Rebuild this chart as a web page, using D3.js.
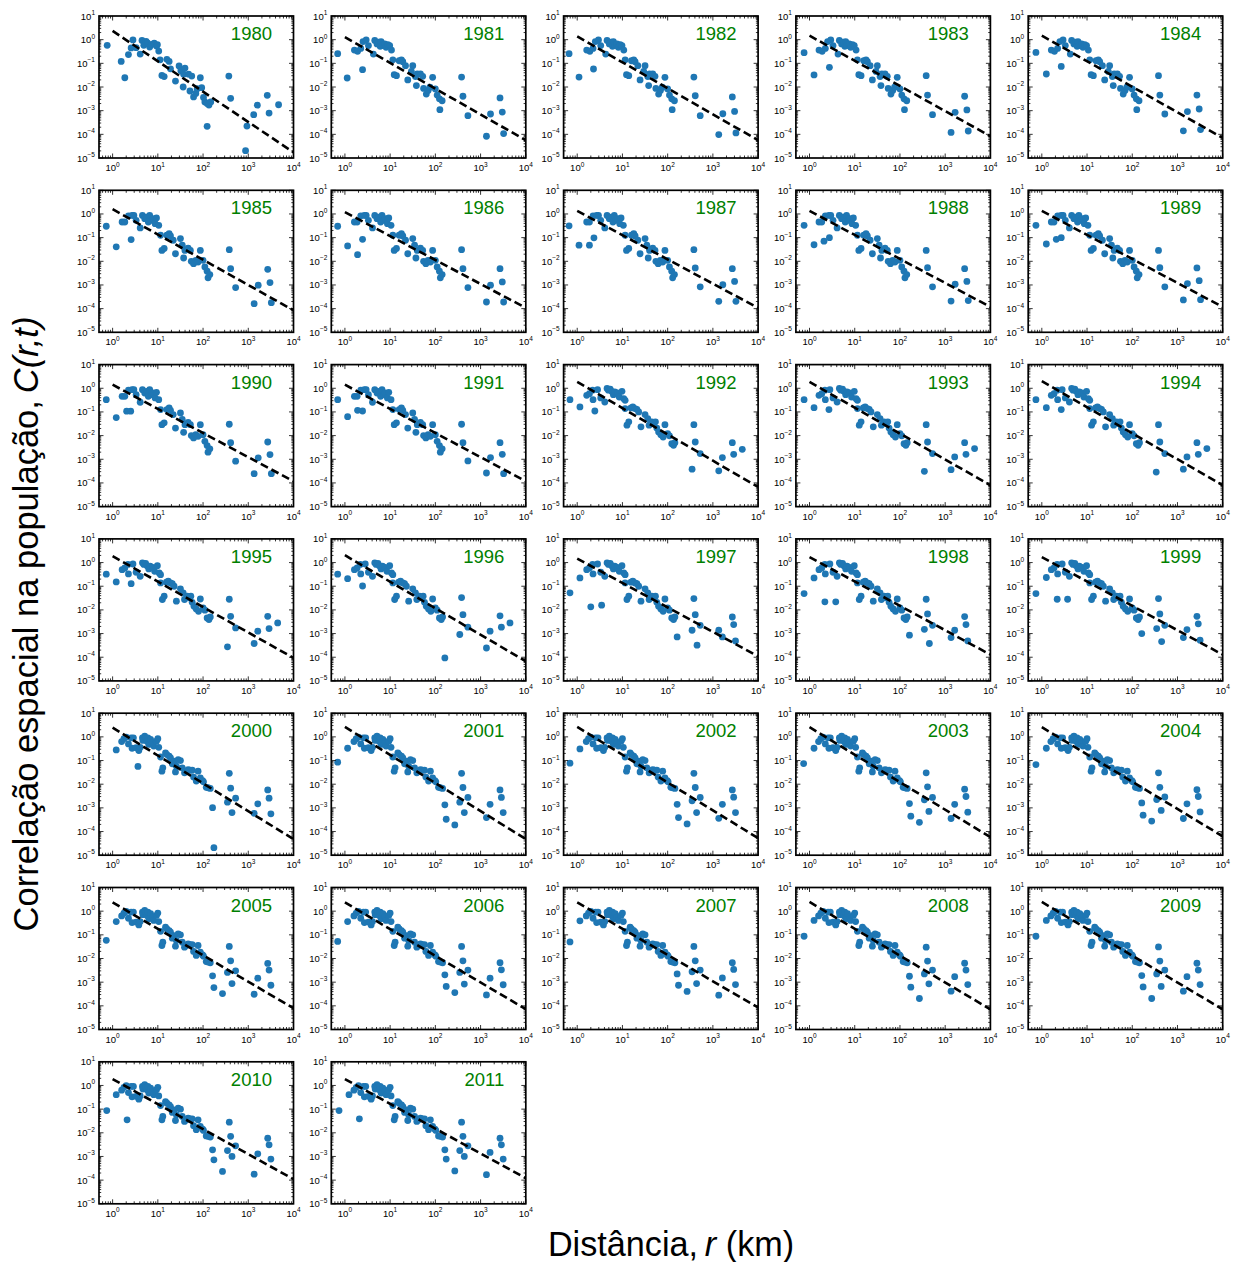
<!DOCTYPE html>
<html><head><meta charset="utf-8">
<script src="https://cdn.jsdelivr.net/npm/d3@7"></script>
<style>body{margin:0;background:#fff}svg{display:block}</style>
</head><body><svg id="c" width="1244" height="1262"></svg>
<script>
// ---------------- DATA ----------------
// points are [log10 distance (km), log10 C(r,t)]
const years = [1980,1981,1982,1983,1984,1985,1986,1987,1988,1989,1990,1991,1992,1993,1994,1995,
               1996,1997,1998,1999,2000,2001,2002,2003,2004,2005,2006,2007,2008,2009,2010,2011];
// fitted power law: log10 C at r = 1 km and at r = 10^4 km
const fitLogAt1 = [0.37,0.11,0.14,0.17,0.17,0.20,0.08,0.13,0.13,0.13,0.15,0.15,0.27,0.27,0.30,0.27,
                   0.31,0.17,0.23,0.23,0.39,0.42,0.42,0.41,0.41,0.37,0.37,0.37,0.39,0.39,0.27,0.27];
const fitLogAt1e4 = [-4.76,-4.25,-4.25,-4.08,-4.15,-4.07,-3.97,-3.97,-3.93,-3.93,-3.93,-3.93,-4.17,-4.10,-4.10,-4.03,
                     -4.17,-3.96,-3.89,-3.89,-4.32,-4.32,-4.28,-4.24,-4.20,-4.10,-4.14,-4.07,-4.15,-4.15,-3.96,-3.92];
const xTickExps = [0,1,2,3,4];
const yTickExps = [-5,-4,-3,-2,-1,0,1];

const pts1980 = [[-0.12,-0.24],[0.19,-0.92],[0.27,-1.61],[0.35,-0.63],[0.41,-0.35],[0.45,-0.01],[0.52,-0.34],[0.61,-0.61],
 [0.65,-0.03],[0.69,-0.24],[0.74,-0.07],[0.77,-0.14],[0.82,-0.31],[0.86,-0.20],[0.92,-0.15],[0.97,-0.27],[0.99,-0.21],
 [1.02,-0.48],[1.05,-0.85],[1.09,-1.51],[1.14,-1.56],[1.20,-0.83],[1.25,-0.92],[1.28,-1.23],[1.39,-1.75],[1.47,-1.11],
 [1.51,-1.31],[1.57,-1.46],[1.60,-1.20],[1.56,-2.00],[1.68,-1.46],[1.71,-2.17],[1.75,-1.54],[1.79,-2.42],[1.84,-2.27],
 [1.87,-2.07],[1.94,-1.61],[1.97,-2.03],[2.01,-2.44],[2.04,-2.63],[2.09,-2.70],[2.13,-2.76],[2.17,-2.63],[2.09,-3.66],
 [2.57,-1.54],[2.61,-2.48],[2.97,-3.65],[2.94,-4.69],[3.12,-3.17],[3.20,-2.77],[3.42,-2.35],[3.46,-3.10],[3.67,-2.75]];

const coreA = [[0.21,-0.44],[0.28,-0.49],[0.35,-0.37],[0.40,-0.08],[0.47,-0.01],[0.52,-0.25],[0.63,-0.61],[0.66,-0.03],
 [0.71,-0.18],[0.75,-0.11],[0.78,-0.28],[0.80,-0.08],[0.83,-0.25],[0.88,-0.18],[0.91,-0.32],[0.95,-0.21],[0.99,-0.25],
 [1.03,-0.44],[1.06,-0.85],[1.09,-1.48],[1.14,-1.52],[1.20,-0.89],[1.25,-0.85],[1.28,-0.93],[1.34,-1.10],[1.39,-1.70],
 [1.47,-1.34],[1.50,-1.10],[1.56,-1.56],[1.58,-1.94],[1.60,-1.45],[1.67,-1.45],[1.72,-1.55],[1.74,-2.06],[1.80,-2.30],
 [1.84,-2.15],[1.88,-2.01],[1.94,-1.59],[2.00,-2.08],[2.04,-2.34],[2.09,-2.50],[2.10,-2.96],[2.15,-2.58]];
const edge1981 = [[-0.16,-0.59],[0.05,-1.62],[0.39,-1.27],[2.58,-1.58],[2.61,-2.39],[2.72,-3.21],[3.13,-4.08],[3.22,-3.14],[3.43,-2.46],[3.48,-3.06],[3.51,-3.97]];
const edge1982 = [[-0.18,-0.59],[0.04,-1.58],[0.36,-1.24],[2.58,-1.58],[2.61,-2.37],[2.72,-3.21],[3.13,-4.01],[3.22,-3.13],[3.43,-2.42],[3.48,-3.03],[3.51,-3.94]];
const edge1983 = [[-0.12,-0.55],[0.10,-1.49],[0.44,-1.17],[2.58,-1.52],[2.61,-2.34],[2.72,-3.17],[3.13,-3.92],[3.22,-3.07],[3.43,-2.39],[3.48,-2.97],[3.51,-3.86]];
const edge1984 = [[-0.13,-0.54],[0.10,-1.45],[0.43,-1.13],[2.58,-1.52],[2.61,-2.34],[2.72,-3.14],[3.13,-3.85],[3.22,-3.04],[3.43,-2.34],[3.48,-2.93],[3.51,-3.80]];

const coreB = [[0.21,-0.34],[0.27,-0.34],[0.35,-0.08],[0.43,-0.06],[0.47,-0.06],[0.52,-0.27],[0.61,-0.59],[0.66,-0.06],
 [0.71,-0.20],[0.75,-0.13],[0.79,-0.34],[0.82,-0.06],[0.86,-0.27],[0.89,-0.20],[0.94,-0.41],[0.97,-0.17],[1.02,-0.48],
 [1.06,-0.90],[1.09,-1.54],[1.14,-1.46],[1.20,-0.90],[1.25,-0.83],[1.28,-0.93],[1.34,-1.11],[1.39,-1.68],[1.50,-1.04],
 [1.54,-1.32],[1.57,-1.86],[1.60,-1.54],[1.67,-1.44],[1.72,-1.54],[1.74,-2.00],[1.79,-2.10],[1.84,-1.96],[1.89,-2.03],
 [1.94,-1.54],[2.00,-1.96],[2.04,-2.24],[2.09,-2.42],[2.11,-2.70],[2.15,-2.56]];
const edge1985 = [[-0.14,-0.52],[0.08,-1.39],[0.41,-1.08],[2.58,-1.51],[2.61,-2.31],[2.72,-3.11],[3.13,-3.79],[3.22,-3.01],[3.43,-2.34],[3.48,-2.90],[3.51,-3.75]];
const edge1986 = [[-0.16,-0.52],[0.06,-1.35],[0.28,-1.72],[0.39,-1.07],[2.58,-1.51],[2.61,-2.31],[2.72,-3.11],[3.13,-3.72],[3.22,-3.01],[3.43,-2.31],[3.48,-2.87],[3.51,-3.72]];
const edge1987 = [[-0.18,-0.50],[0.04,-1.32],[0.27,-1.32],[0.37,-1.01],[2.58,-1.51],[2.61,-2.28],[2.72,-3.08],[3.13,-3.69],[3.22,-2.99],[3.43,-2.31],[3.48,-2.85],[3.51,-3.69]];
const edge1988 = [[-0.12,-0.48],[0.10,-1.30],[0.32,-1.15],[0.44,-1.00],[2.58,-1.54],[2.61,-2.27],[2.72,-3.08],[3.13,-3.68],[3.22,-2.97],[3.43,-2.31],[3.48,-2.85],[3.51,-3.66]];
const edge1989 = [[-0.13,-0.48],[0.10,-1.27],[0.32,-1.07],[0.43,-1.00],[2.58,-1.54],[2.61,-2.27],[2.72,-3.08],[3.13,-3.63],[3.22,-2.94],[3.43,-2.28],[3.48,-2.82],[3.51,-3.62]];
const edge1990 = [[-0.14,-0.48],[0.08,-1.24],[0.31,-0.97],[0.40,-0.97],[2.58,-1.52],[2.61,-2.30],[2.72,-3.08],[3.13,-3.61],[3.22,-2.94],[3.43,-2.27],[3.48,-2.80],[3.51,-3.61]];
const edge1991 = [[-0.16,-0.48],[0.06,-1.20],[0.28,-0.93],[0.39,-0.96],[2.58,-1.52],[2.61,-2.30],[2.72,-3.07],[3.13,-3.58],[3.22,-2.93],[3.43,-2.30],[3.48,-2.79],[3.51,-3.61]];

const coreC = [[0.21,-0.30],[0.27,-0.23],[0.34,-0.08],[0.35,-0.48],[0.45,-0.06],[0.52,-0.41],[0.61,-0.58],[0.66,-0.01],
 [0.69,-0.08],[0.73,-0.04],[0.76,-0.13],[0.80,-0.27],[0.83,-0.15],[0.89,-0.20],[0.93,-0.37],[0.99,-0.13],[1.03,-0.44],
 [1.06,-0.51],[1.06,-0.86],[1.10,-1.56],[1.14,-1.42],[1.19,-0.83],[1.23,-0.79],[1.28,-0.86],[1.32,-0.89],[1.36,-1.00],
 [1.41,-1.63],[1.50,-1.11],[1.56,-1.28],[1.59,-1.56],[1.65,-1.42],[1.69,-1.49],[1.73,-1.42],[1.76,-1.68],[1.80,-1.85],
 [1.85,-1.96],[1.90,-2.06],[1.94,-1.54],[2.00,-1.92],[2.04,-2.01],[2.09,-2.34],[2.13,-2.41],[2.16,-2.30]];
const edge1992 = [[-0.16,-0.48],[0.06,-0.79],[0.39,-0.96],[2.54,-3.42],[2.58,-1.54],[2.61,-2.27],[2.72,-2.76],[3.13,-3.49],[3.21,-2.93],[3.43,-2.30],[3.46,-2.79],[3.65,-2.58]];
const edge1993 = [[-0.12,-0.48],[0.10,-0.82],[0.43,-0.90],[2.54,-3.51],[2.58,-1.54],[2.61,-2.27],[2.72,-2.76],[3.13,-3.44],[3.21,-2.90],[3.43,-2.30],[3.46,-2.79],[3.65,-2.55]];
const edge1994 = [[-0.13,-0.48],[0.10,-0.82],[0.43,-0.90],[2.53,-3.54],[2.58,-1.54],[2.61,-2.27],[2.72,-2.76],[3.13,-3.42],[3.21,-2.90],[3.43,-2.30],[3.46,-2.79],[3.65,-2.55]];
const edge1995 = [[-0.14,-0.49],[0.08,-0.82],[0.41,-0.89],[2.54,-3.56],[2.58,-1.55],[2.61,-2.27],[2.72,-2.76],[3.13,-3.42],[3.21,-2.90],[3.43,-2.27],[3.46,-2.79],[3.65,-2.55]];
const edge1996 = [[-0.16,-0.49],[0.06,-0.68],[0.39,-0.99],[2.21,-4.03],[2.54,-3.04],[2.58,-1.48],[2.61,-2.20],[2.72,-2.73],[3.13,-3.61],[3.21,-2.90],[3.43,-2.25],[3.46,-2.73],[3.65,-2.55]];
const edge1997 = [[-0.16,-1.28],[0.06,-0.65],[0.30,-1.87],[0.54,-1.80],[2.21,-3.14],[2.54,-2.86],[2.58,-1.52],[2.61,-2.20],[2.65,-3.49],[2.72,-2.65],[3.13,-2.86],[3.21,-3.14],[3.43,-2.30],[3.46,-2.62],[3.50,-3.31]];
const edge1998 = [[-0.12,-1.31],[0.10,-0.65],[0.34,-1.66],[0.58,-1.66],[2.21,-3.07],[2.54,-2.82],[2.58,-1.55],[2.61,-2.17],[2.65,-3.42],[2.72,-2.65],[3.13,-3.17],[3.21,-2.86],[3.43,-2.28],[3.46,-2.62],[3.50,-3.31]];
const edge1999 = [[-0.13,-1.31],[0.10,-0.63],[0.34,-1.55],[0.57,-1.55],[2.21,-3.00],[2.54,-2.79],[2.58,-1.52],[2.61,-2.17],[2.65,-3.34],[2.72,-2.65],[3.13,-3.17],[3.21,-2.83],[3.43,-2.27],[3.46,-2.59],[3.50,-3.28]];

const coreD = [[0.20,-0.20],[0.25,-0.08],[0.30,-0.01],[0.35,-0.30],[0.41,-0.04],[0.43,-0.48],[0.46,-0.04],[0.52,-0.46],
 [0.58,-0.58],[0.61,-0.44],[0.66,-0.04],[0.67,-0.15],[0.71,0.03],[0.73,-0.08],[0.76,-0.18],[0.78,-0.04],[0.80,-0.32],
 [0.84,-0.11],[0.88,-0.25],[0.91,-0.39],[0.97,-0.18],[1.00,-0.08],[1.02,-0.44],[1.06,-0.85],[1.09,-1.45],[1.11,-1.31],
 [1.17,-0.68],[1.20,-0.75],[1.25,-0.82],[1.28,-0.89],[1.32,-1.14],[1.36,-1.03],[1.39,-1.48],[1.41,-1.24],[1.45,-0.96],
 [1.50,-1.00],[1.54,-1.31],[1.59,-1.52],[1.63,-1.45],[1.67,-1.38],[1.71,-1.41],[1.76,-1.41],[1.79,-1.70],[1.85,-1.87],
 [1.89,-1.45],[1.94,-1.73],[1.99,-1.85],[2.01,-1.90],[2.07,-2.13],[2.11,-2.15],[2.16,-2.18]];
const edge2000 = [[0.08,-0.55],[0.56,-1.25],[2.21,-2.99],[2.24,-4.68],[2.54,-2.76],[2.58,-1.54],[2.61,-2.17],[2.64,-3.20],[2.72,-2.59],[3.13,-3.23],[3.21,-2.83],[3.43,-2.24],[3.46,-2.59],[3.50,-3.25]];
const edge2001 = [[-0.16,-1.07],[0.06,-0.48],[2.21,-2.87],[2.24,-3.48],[2.43,-3.72],[2.54,-2.76],[2.58,-1.54],[2.61,-2.14],[2.64,-3.20],[2.72,-2.56],[3.13,-3.41],[3.21,-2.85],[3.43,-2.24],[3.46,-2.56],[3.50,-3.20]];
const edge2002 = [[-0.16,-1.11],[0.06,-0.51],[2.21,-2.85],[2.24,-3.41],[2.43,-3.68],[2.54,-2.70],[2.58,-1.54],[2.61,-2.14],[2.64,-3.20],[2.72,-2.56],[3.13,-3.44],[3.21,-2.85],[3.43,-2.24],[3.46,-2.55],[3.50,-3.20]];
const edge2003 = [[-0.13,-1.13],[0.10,-0.48],[2.21,-2.82],[2.24,-3.35],[2.43,-3.61],[2.54,-2.66],[2.58,-1.52],[2.61,-2.11],[2.64,-3.15],[2.72,-2.56],[3.13,-3.45],[3.21,-2.85],[3.43,-2.21],[3.46,-2.52],[3.50,-3.18]];
const edge2004 = [[-0.13,-1.17],[0.10,-0.48],[2.21,-2.79],[2.24,-3.31],[2.43,-3.56],[2.54,-2.65],[2.58,-1.52],[2.61,-2.13],[2.64,-3.11],[2.72,-2.54],[3.13,-3.45],[3.21,-2.83],[3.43,-2.23],[3.46,-2.52],[3.50,-3.17]];
const edge2005 = [[-0.14,-1.23],[0.08,-0.44],[2.21,-2.73],[2.24,-3.23],[2.43,-3.48],[2.54,-2.59],[2.58,-1.49],[2.61,-2.10],[2.64,-3.06],[2.72,-2.52],[3.13,-3.51],[3.21,-2.83],[3.43,-2.21],[3.46,-2.49],[3.50,-3.13]];
const edge2006 = [[-0.16,-1.28],[0.06,-0.44],[2.21,-2.69],[2.24,-3.18],[2.43,-3.44],[2.54,-2.59],[2.58,-1.49],[2.61,-2.10],[2.64,-3.08],[2.72,-2.49],[3.13,-3.54],[3.21,-2.83],[3.43,-2.18],[3.46,-2.48],[3.50,-3.11]];
const edge2007 = [[-0.16,-1.30],[0.06,-0.41],[2.21,-2.65],[2.24,-3.13],[2.43,-3.39],[2.54,-2.56],[2.58,-1.49],[2.61,-2.10],[2.64,-3.06],[2.72,-2.49],[3.13,-3.55],[3.21,-2.82],[3.43,-2.18],[3.46,-2.46],[3.50,-3.10]];
const edge2008 = [[-0.12,-1.06],[0.10,-0.39],[2.21,-2.75],[2.24,-3.21],[2.43,-3.69],[2.54,-2.65],[2.58,-1.52],[2.61,-2.11],[2.64,-3.07],[2.72,-2.49],[3.13,-3.38],[3.21,-2.77],[3.43,-2.20],[3.46,-2.49],[3.50,-3.10]];
const edge2009 = [[-0.13,-1.06],[0.10,-0.39],[2.21,-2.72],[2.24,-3.20],[2.43,-3.69],[2.54,-2.65],[2.58,-1.51],[2.61,-2.11],[2.64,-3.18],[2.72,-2.49],[3.13,-3.38],[3.21,-2.77],[3.43,-2.20],[3.46,-2.49],[3.50,-3.10]];
const edge2010 = [[-0.13,-1.06],[0.08,-0.39],[0.32,-1.45],[2.21,-2.72],[2.24,-3.14],[2.43,-3.63],[2.54,-2.75],[2.58,-1.55],[2.61,-2.15],[2.64,-3.00],[2.72,-2.55],[3.13,-3.75],[3.21,-2.89],[3.43,-2.23],[3.46,-2.51],[3.50,-3.11]];
const edge2011 = [[-0.13,-1.06],[0.09,-0.39],[0.32,-1.41],[2.21,-2.72],[2.24,-3.11],[2.43,-3.61],[2.54,-2.75],[2.58,-1.55],[2.61,-2.15],[2.64,-3.00],[2.72,-2.55],[3.13,-3.77],[3.21,-2.83],[3.43,-2.23],[3.46,-2.51],[3.50,-3.11]];

const pointSets = [
  pts1980,
  coreA.concat(edge1981), coreA.concat(edge1982), coreA.concat(edge1983), coreA.concat(edge1984),
  coreB.concat(edge1985), coreB.concat(edge1986), coreB.concat(edge1987), coreB.concat(edge1988),
  coreB.concat(edge1989), coreB.concat(edge1990), coreB.concat(edge1991),
  coreC.concat(edge1992), coreC.concat(edge1993), coreC.concat(edge1994), coreC.concat(edge1995),
  coreC.concat(edge1996), coreC.concat(edge1997), coreC.concat(edge1998), coreC.concat(edge1999),
  coreD.concat(edge2000), coreD.concat(edge2001), coreD.concat(edge2002), coreD.concat(edge2003),
  coreD.concat(edge2004), coreD.concat(edge2005), coreD.concat(edge2006), coreD.concat(edge2007),
  coreD.concat(edge2008), coreD.concat(edge2009), coreD.concat(edge2010), coreD.concat(edge2011)
];

// ---------------- LAYOUT ----------------
const svg = d3.select('#c');
const FONT = '"Liberation Sans", Arial, Helvetica, sans-serif';
const nCols = 5, left0 = 99, colStep = 232.3, top0 = 16, rowStep = 174.3;
const W = 194.5, H = 142;
const x = d3.scaleLog().domain([0.5, 1e4]).range([0, W]);
const y = d3.scaleLog().domain([1e-5, 10]).range([H, 0]);
const ptColor = '#1f77b4';

const xMinor = [], yMinor = [];
for (let e = -1; e < 4; e++) for (let k = 2; k <= 9; k++) {
  const v = k * Math.pow(10, e);
  if (v > 0.5 && v < 1e4) xMinor.push(v);
}
for (let e = -5; e < 1; e++) for (let k = 2; k <= 9; k++) yMinor.push(k * Math.pow(10, e));

years.forEach((yr, i) => {
  const col = i % nCols, row = Math.floor(i / nCols);
  const g = svg.append('g').attr('transform', `translate(${left0 + col * colStep},${top0 + row * rowStep})`);
  const clipId = 'clip' + i;
  g.append('clipPath').attr('id', clipId).append('rect').attr('width', W).attr('height', H);

  const plot = g.append('g').attr('clip-path', `url(#${clipId})`);
  plot.selectAll('circle').data(pointSets[i]).join('circle')
    .attr('cx', d => x(Math.pow(10, d[0])))
    .attr('cy', d => y(Math.pow(10, d[1])))
    .attr('r', 3.4)
    .attr('fill', ptColor);

  const a = fitLogAt1[i], b = fitLogAt1e4[i];
  const fit = [[1, Math.pow(10, a)], [1e4, Math.pow(10, b)]];
  plot.append('path')
    .attr('d', d3.line().x(d => x(d[0])).y(d => y(d[1]))(fit))
    .attr('fill', 'none').attr('stroke', '#000').attr('stroke-width', 2.6)
    .attr('stroke-dasharray', '8,4');

  // ticks (inward, all four sides)
  const tk = g.append('g').attr('stroke', '#000').attr('stroke-width', 0.8);
  xTickExps.forEach(e => {
    const px = x(Math.pow(10, e));
    tk.append('line').attr('x1', px).attr('x2', px).attr('y1', H).attr('y2', H - 4.5);
    tk.append('line').attr('x1', px).attr('x2', px).attr('y1', 0).attr('y2', 4.5);
  });
  xMinor.forEach(v => {
    const px = x(v);
    tk.append('line').attr('x1', px).attr('x2', px).attr('y1', H).attr('y2', H - 2.5);
    tk.append('line').attr('x1', px).attr('x2', px).attr('y1', 0).attr('y2', 2.5);
  });
  yTickExps.forEach(e => {
    const py = y(Math.pow(10, e));
    tk.append('line').attr('x1', 0).attr('x2', 4.5).attr('y1', py).attr('y2', py);
    tk.append('line').attr('x1', W).attr('x2', W - 4.5).attr('y1', py).attr('y2', py);
  });
  yMinor.forEach(v => {
    const py = y(v);
    tk.append('line').attr('x1', 0).attr('x2', 2.2).attr('y1', py).attr('y2', py);
    tk.append('line').attr('x1', W).attr('x2', W - 2.2).attr('y1', py).attr('y2', py);
  });

  g.append('rect').attr('width', W).attr('height', H)
    .attr('fill', 'none').attr('stroke', '#000').attr('stroke-width', 1.7);

  // tick labels
  xTickExps.forEach(e => {
    const t = g.append('text').attr('x', x(Math.pow(10, e))).attr('y', H + 13)
      .attr('text-anchor', 'middle').attr('font-family', FONT).attr('font-size', 9.5).attr('fill', '#000');
    t.append('tspan').text('10');
    t.append('tspan').attr('dy', -4.5).attr('font-size', 6.5).text(String(e).replace('-', '\u2212'));
  });
  yTickExps.forEach(e => {
    const t = g.append('text').attr('x', -4).attr('y', y(Math.pow(10, e)) + 3.5)
      .attr('text-anchor', 'end').attr('font-family', FONT).attr('font-size', 9.5).attr('fill', '#000');
    t.append('tspan').text('10');
    t.append('tspan').attr('dy', -4.5).attr('font-size', 6.5).text(String(e).replace('-', '\u2212'));
  });

  g.append('text').attr('x', W - 21.5).attr('y', 24)
    .attr('text-anchor', 'end').attr('font-family', FONT).attr('font-size', 18.5)
    .attr('fill', '#008000').text(yr);
});

// axis titles
const yl = svg.append('text').attr('transform', 'translate(38,624) rotate(-90)')
  .attr('text-anchor', 'middle').attr('font-family', FONT).attr('font-size', 34.5).attr('fill', '#000');
yl.append('tspan').text('Correlação espacial na população,\u2009');
yl.append('tspan').attr('font-style', 'italic').text('C(r,t)');

const xl = svg.append('text').attr('x', 671).attr('y', 1256)
  .attr('text-anchor', 'middle').attr('font-family', FONT).attr('font-size', 34.2).attr('fill', '#000');
xl.append('tspan').text('Distância,\u2009');
xl.append('tspan').attr('font-style', 'italic').text('r');
xl.append('tspan').text(' (km)');
</script></body></html>
